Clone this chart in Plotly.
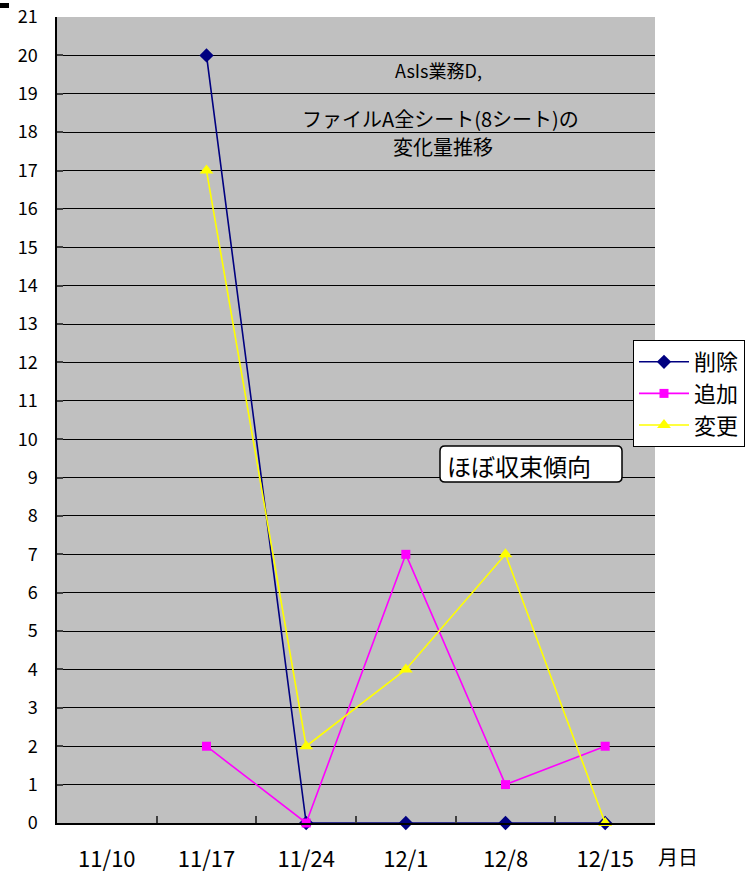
import plotly.graph_objects as go

dates = ["11/10", "11/17", "11/24", "12/1", "12/8", "12/15"]
deleted = [None, 20, 0, 0, 0, 0]
added = [None, 2, 0, 7, 1, 2]
changed = [None, 17, 2, 4, 7, 0]
y_ticks = list(range(0, 22))

W, H = 745, 872
L, R, T, B = 57, 90, 17, 49
PW, PH = W - L - R, H - T - B

def px(x):
    return (x - L) / PW

def py(y):
    return (H - B - y) / PH

FONT = "Noto Sans CJK JP"

fig = go.Figure()
fig.add_trace(go.Scatter(x=dates, y=deleted, name="削除", mode="lines+markers",
                         line=dict(color="#000080", width=1.6),
                         marker=dict(symbol="diamond", size=11, color="#000080"),
                         cliponaxis=False))
fig.add_trace(go.Scatter(x=dates, y=added, name="追加", mode="lines+markers",
                         line=dict(color="#FF00FF", width=1.6),
                         marker=dict(symbol="square", size=9, color="#FF00FF"),
                         cliponaxis=False))
fig.add_trace(go.Scatter(x=dates, y=changed, name="変更", mode="lines+markers",
                         line=dict(color="#FFFF00", width=1.6),
                         marker=dict(symbol="triangle-up", size=12, color="#FFFF00"),
                         cliponaxis=False))

fig.update_layout(
    width=W, height=H,
    margin=dict(l=L, r=R, t=T, b=B, autoexpand=False),
    paper_bgcolor="white",
    plot_bgcolor="#C0C0C0",
    font=dict(family=FONT, color="black"),
    showlegend=True,
    legend=dict(x=px(633), y=py(340), xanchor="left", yanchor="top",
                bgcolor="white", bordercolor="black", borderwidth=1,
                font=dict(size=22, family=FONT), tracegroupgap=0, itemwidth=50),
    xaxis=dict(type="category", categoryarray=dates, range=[-0.5, 5.5],
               tickson="boundaries", ticks="inside", ticklen=7, tickcolor="#404040",
               tickwidth=1.5, showgrid=False, showline=True, linecolor="black",
               linewidth=2, tickfont=dict(size=22, family=FONT),
               ticklabelstandoff=16),
    yaxis=dict(range=[0, 21], tickvals=y_ticks, ticks="inside", ticklen=6,
               tickcolor="#404040", tickwidth=1.5,
               showgrid=True, gridcolor="black", gridwidth=1,
               zeroline=False, showline=True, linecolor="black", linewidth=1.5,
               tickfont=dict(size=18, family=FONT), ticklabelstandoff=14),
)

def note(x, y, text, size, xanchor="center"):
    fig.add_annotation(x=px(x), y=py(y), xref="paper", yref="paper",
                       xanchor=xanchor, yanchor="middle",
                       text=text, showarrow=False, font=dict(size=size))

# Title text
note(438, 70, "AsIs業務D,", 18)
note(440, 118, "ファイルA全シート(8シート)の", 20)
note(443, 146, "変化量推移", 20)

# Rounded callout box
x0, x1, y0, y1, r = 440, 622, 446, 482, 5
path = (f"M{px(x0 + r)},{py(y0)} L{px(x1 - r)},{py(y0)} Q{px(x1)},{py(y0)} {px(x1)},{py(y0 + r)} "
        f"L{px(x1)},{py(y1 - r)} Q{px(x1)},{py(y1)} {px(x1 - r)},{py(y1)} "
        f"L{px(x0 + r)},{py(y1)} Q{px(x0)},{py(y1)} {px(x0)},{py(y1 - r)} "
        f"L{px(x0)},{py(y0 + r)} Q{px(x0)},{py(y0)} {px(x0 + r)},{py(y0)} Z")
fig.add_shape(type="path", path=path, xref="paper", yref="paper",
              fillcolor="white", line=dict(color="black", width=1.5), layer="above")
note(445, 465, "ほぼ収束傾向", 24, xanchor="left")

# Axis title
note(678, 856, "月日", 20)

# small black mark top-left
fig.add_shape(type="rect", xref="paper", yref="paper",
              x0=px(0), x1=px(9), y0=py(8), y1=py(3),
              fillcolor="black", line=dict(width=0))

fig.write_html("out.html")
